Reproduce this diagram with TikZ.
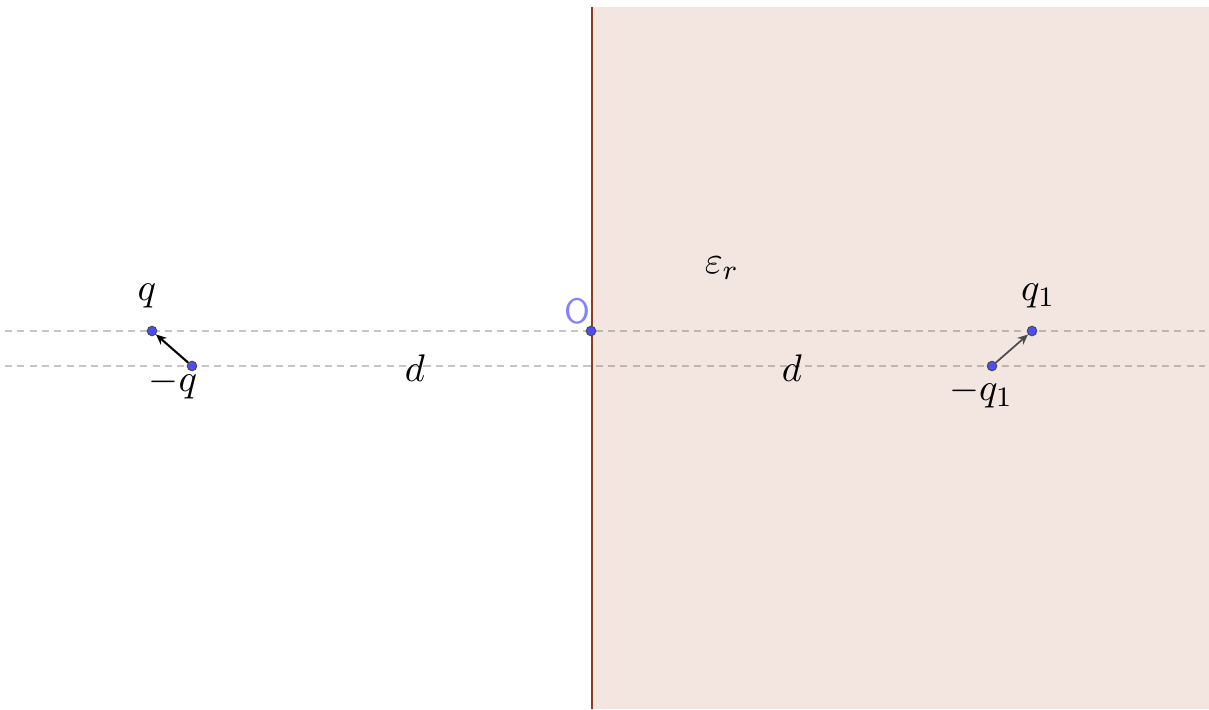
\documentclass[tikz,border=0pt]{standalone}
\usetikzlibrary{arrows.meta}
\definecolor{grenze}{RGB}{153,51,0}
\definecolor{grenzlinie}{RGB}{140,62,32}
\definecolor{punkt}{RGB}{77,77,255}
\tikzset{
  ladung/.style={circle, fill=punkt, draw=black!70, line width=0.3pt, inner sep=0pt, minimum size=2.7pt},
  hilfslinie/.style={gray!45, dash pattern=on 2pt off 1.5pt, line width=0.4pt},
  beschr/.style={font=\fontsize{11}{13}\selectfont}
}
\begin{document}
\begin{tikzpicture}[x=0.01cm, y=-0.01cm]
  \useasboundingbox (0,0) rectangle (1209,709);
  % Hilfslinien (Hoehe q und -q)
  \draw[hilfslinie] (5,331) -- (1205,331);
  \draw[hilfslinie] (5,366) -- (1205,366);
  % Dielektrikum rechts
  \fill[grenze, fill opacity=0.12] (592,7) rectangle (1209,709);
  \draw[grenzlinie, line width=0.7pt] (592,7) -- (592,709);
  % Ladungen
  \node[ladung] (q)  at (152,331) {};
  \node[ladung] (mq) at (192,366) {};
  \node[ladung] (o)  at (591,331) {};
  \node[ladung] (mq1) at (992,366) {};
  \node[ladung] (q1) at (1032,331) {};
  % Dipole
  \draw[black, line width=0.6pt, -{Stealth[length=3pt, width=2.6pt]}] (mq) -- (q);
  \draw[black!70, line width=0.5pt, -{Stealth[length=3pt, width=2.6pt]}] (mq1) -- (q1);
  % Beschriftungen
  \node[beschr] (lq)   at (147,296) {$q$};
  \node[beschr] (lmq)  at (173,384) {$-q$};
  \node[beschr] (lq1)  at (1038,296) {$q_1$};
  \node[beschr] (lmq1) at (981,393) {$-q_1$};
  \node[beschr] (d1)   at (415,368) {$d$};
  \node[beschr] (d2)   at (792,368) {$d$};
  \node[beschr] (eps)  at (722,268) {$\varepsilon_r$};
  \node[punkt!70, font=\fontsize{10}{12}\sffamily] (lo) at (577,311) {O};
\end{tikzpicture}
\end{document}
